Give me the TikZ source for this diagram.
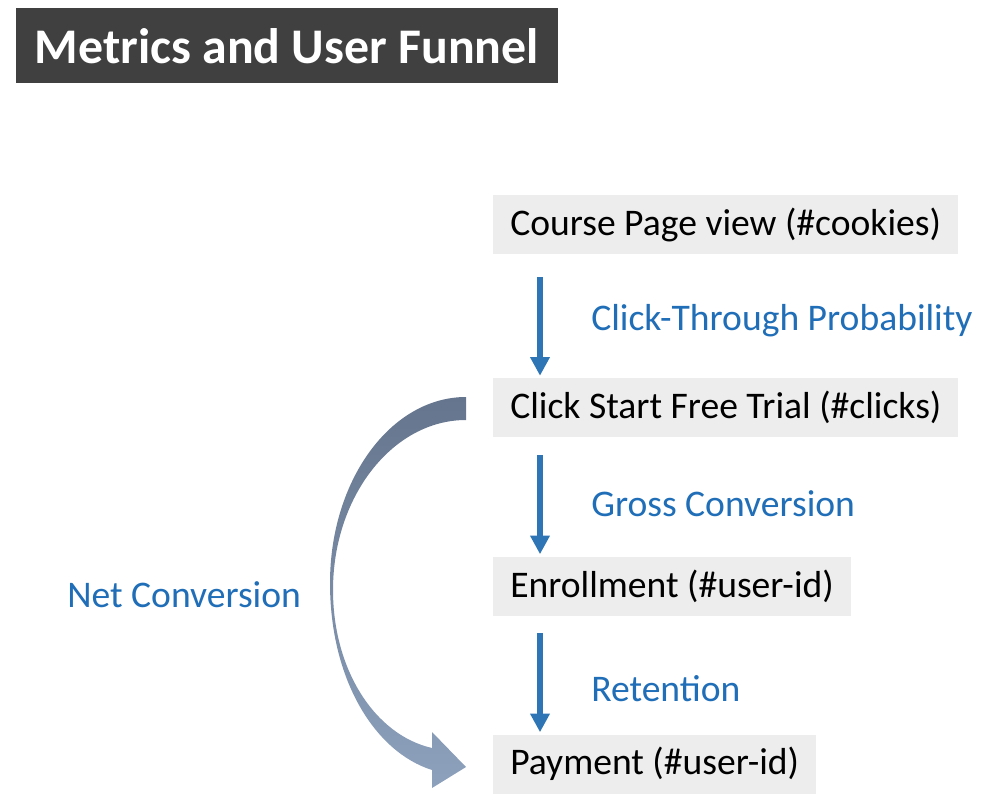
\documentclass[tikz,border=0pt]{standalone}
\usepackage{fontspec}
\setmainfont{Carlito}
\usetikzlibrary{arrows.meta}
\usetikzlibrary{positioning}
\definecolor{boxgray}{HTML}{EDEDED}
\definecolor{titlegray}{HTML}{404040}
\definecolor{flowblue}{HTML}{2E75B6}
\definecolor{labelblue}{HTML}{1F6EB7}
\definecolor{nettop}{HTML}{65758D}
\definecolor{netbot}{HTML}{8DA1BD}

\begin{document}
\begin{tikzpicture}[x=0.75pt, y=-0.75pt,
  stage/.style={fill=boxgray, anchor=west, minimum height=44.25pt, inner xsep=12.75pt, inner ysep=0pt, font=\fontsize{28.2}{33}\selectfont},
  metric/.style={anchor=base west, inner sep=0pt, text=labelblue, font=\fontsize{28.2}{33}\selectfont},
  flow/.style={draw=flowblue, line width=4.5pt, -{Triangle[width=14pt,length=14pt]}, shorten >=1.5pt}
]

\useasboundingbox (0,0) rectangle (995,810);

% title
\node[fill=titlegray, text=white, anchor=north west, minimum height=56.25pt, inner xsep=14pt, inner ysep=0pt, font=\fontsize{37.4}{42}\selectfont\bfseries] (title) at (16,8) {Metrics and User Funnel};

% funnel stages
\node[stage] (cpv) at (493,224.5) {Course Page view (\#cookies)};
\node[stage] (cst) at (493,407.5) {Click Start Free Trial (\#clicks)};
\node[stage] (enr) at (493,586) {Enrollment (\#user-id)};
\node[stage] (pay) at (493,764) {Payment (\#user-id)};

% arrows between stages
\draw[flow, shorten <=17.25pt] ([xshift=35.25pt]cpv.south west) -- ([xshift=35.25pt]cst.north west);
\draw[flow, shorten <=13.5pt] ([xshift=35.25pt]cst.south west) -- ([xshift=35.25pt]enr.north west);
\draw[flow, shorten <=12.75pt] ([xshift=35.25pt]enr.south west) -- ([xshift=35.25pt]pay.north west);

% metrics
\node[metric] (ctp) at (591,330) {Click-Through Probability};
\node[metric] (gc) at (591,516) {Gross Conversion};
\node[metric] (ret) at (591,701) {Retention};
\node[metric] (nc) at (67,607) {Net Conversion};

% curved net conversion arrow
\shade[top color=nettop, bottom color=netbot]
  (466,397) .. controls (391,397) and (330,480) .. (330,583)
  .. controls (330,680) and (375,752) .. (432,770)
  -- (432,788) -- (466,767) -- (432,732) -- (432,748)
  .. controls (375,735) and (333,670) .. (333,590)
  .. controls (333,496) and (393,420) .. (466,420) -- cycle;

\end{tikzpicture}
\end{document}
